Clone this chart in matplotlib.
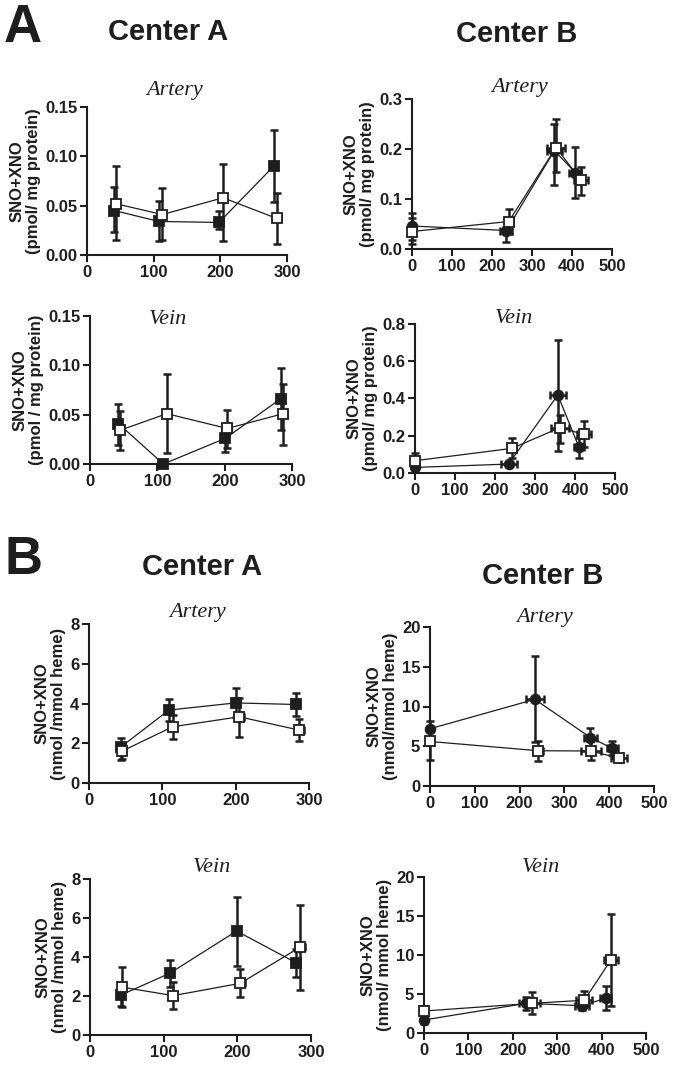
import matplotlib
matplotlib.use("Agg")
import matplotlib.pyplot as plt
import numpy as np

W, H = 674, 1065
INK = "#1e1e1e"

# rows: (x, y, y_low, y_high, xerr)
a_left_art_f = [(41, 0.045, 0.023, 0.069, 4), (108, 0.034, 0.014, 0.055, 4),
                (198, 0.033, 0.026, 0.045, 4), (280, 0.090, 0.054, 0.127, 5)]
a_left_art_o = [(43, 0.052, 0.015, 0.090, 4), (113, 0.041, 0.015, 0.068, 4),
                (204, 0.058, 0.014, 0.092, 5), (285, 0.037, 0.011, 0.063, 6)]

a_right_art_f = [(0, 0.046, 0.018, 0.072, 0), (236, 0.037, 0.015, 0.045, 15),
                 (356, 0.197, 0.128, 0.250, 18), (408, 0.153, 0.102, 0.205, 15)]
a_right_art_o = [(0, 0.035, 0.010, 0.062, 0), (242, 0.055, 0.030, 0.080, 10),
                 (360, 0.203, 0.155, 0.260, 22), (422, 0.138, 0.108, 0.165, 17)]

a_left_vein_f = [(42, 0.041, 0.019, 0.061, 4), (109, 0.000, 0.000, 0.000, 0),
                 (201, 0.026, 0.012, 0.035, 4), (283, 0.066, 0.034, 0.097, 5)]
a_left_vein_o = [(44, 0.034, 0.014, 0.054, 4), (114, 0.051, 0.011, 0.091, 4),
                 (204, 0.036, 0.016, 0.055, 6), (287, 0.051, 0.019, 0.081, 6)]

a_right_vein_f = [(0, 0.030, 0.015, 0.045, 0), (234, 0.048, 0.035, 0.060, 20),
                  (357, 0.419, 0.120, 0.715, 20), (410, 0.138, 0.080, 0.190, 12)]
a_right_vein_o = [(0, 0.066, 0.020, 0.110, 0), (242, 0.132, 0.080, 0.190, 10),
                  (362, 0.243, 0.160, 0.310, 22), (422, 0.208, 0.140, 0.280, 18)]

b_left_art_f = [(43, 1.80, 1.15, 2.25, 4), (109, 3.67, 3.10, 4.25, 4),
                (200, 4.03, 3.30, 4.80, 5), (282, 3.95, 3.35, 4.55, 5)]
b_left_art_o = [(45, 1.60, 1.20, 2.00, 4), (114, 2.83, 2.20, 3.40, 4),
                (205, 3.33, 2.30, 4.30, 6), (287, 2.66, 2.10, 3.20, 6)]

b_right_art_f = [(0, 7.2, 6.2, 8.2, 0), (234, 10.9, 5.5, 16.4, 20),
                 (358, 6.1, 4.9, 7.3, 15), (407, 4.74, 3.9, 5.6, 12)]
b_right_art_o = [(0, 5.6, 3.3, 7.0, 0), (241, 4.44, 3.2, 5.6, 12),
                 (360, 4.4, 3.3, 5.6, 22), (421, 3.5, 3.0, 4.0, 18)]

b_left_vein_f = [(42, 2.05, 1.50, 2.60, 4), (108, 3.16, 2.45, 3.85, 4),
                 (199, 5.33, 3.55, 7.10, 5), (280, 3.70, 3.00, 4.40, 5)]
b_left_vein_o = [(44, 2.45, 1.45, 3.50, 4), (113, 2.02, 1.35, 2.70, 4),
                 (204, 2.65, 1.95, 3.40, 6), (285, 4.50, 2.30, 6.65, 7)]

b_right_vein_f = [(0, 1.67, 1.2, 2.2, 0), (230, 3.8, 3.0, 4.6, 15),
                  (356, 3.5, 3.0, 4.0, 15), (409, 4.45, 3.0, 6.0, 12)]
b_right_vein_o = [(0, 2.82, 2.2, 3.4, 0), (243, 3.8, 2.5, 5.3, 18),
                  (361, 4.2, 3.3, 5.4, 18), (421, 9.36, 3.5, 15.3, 15)]

a_yticks = [0.0, 0.05, 0.10, 0.15]
a_yticklabels = ["0.00", "0.05", "0.10", "0.15"]

fig = plt.figure(figsize=(W / 100, H / 100), dpi=100)
SANS = "Liberation Sans"
SERIF = "Liberation Serif"


def box(x0, y0, x1, y1):
    # pixel box -> figure fraction
    return [x0 / W, 1 - y1 / H, (x1 - x0) / W, (y1 - y0) / H]


def series(ax, rows, filled, marker):
    d = np.array(rows, dtype=float)
    x, y = d[:, 0], d[:, 1]
    yerr = [y - d[:, 2], d[:, 3] - y]
    xerr = d[:, 4]
    ax.plot(x, y, color=INK, lw=0.9, zorder=2, clip_on=False)
    ax.errorbar(x, y, yerr=yerr, xerr=xerr, fmt="none", ecolor=INK,
                elinewidth=1.8, capsize=3, capthick=1.8, zorder=3, clip_on=False)
    ax.plot(x, y, ls="none", marker=marker, ms=7,
            mfc=INK if filled else "white", mec=INK, mew=1.3,
            zorder=4 if filled else 5, clip_on=False)


def panel(rect, rows_f, rows_o, xmax, ymax, yticks, yticklabels, ylabel, marker):
    ax = fig.add_axes(box(*rect))
    series(ax, rows_f, True, marker)
    series(ax, rows_o, False, "s")
    ax.set_xlim(0, xmax)
    ax.set_ylim(0, ymax)
    ax.set_xticks(np.arange(0, xmax + 1, 100))
    ax.set_yticks(yticks)
    ax.set_yticklabels(yticklabels)
    for s in ["top", "right"]:
        ax.spines[s].set_visible(False)
    for s in ["left", "bottom"]:
        ax.spines[s].set_linewidth(1.5)
        ax.spines[s].set_color(INK)
    ax.tick_params(direction="out", length=5, width=1.5, color=INK, pad=2,
                   labelsize=12, labelcolor=INK)
    for t in ax.get_xticklabels() + ax.get_yticklabels():
        t.set_fontfamily(SANS)
        t.set_fontweight("bold")
    ax.set_ylabel(ylabel, fontsize=12, fontweight="bold", family=SANS,
                  color=INK, labelpad=3, linespacing=1.1)
    return ax


panel((87, 107, 287, 255), a_left_art_f, a_left_art_o, 300, 0.15,
      a_yticks, a_yticklabels, "SNO+XNO\n(pmol/ mg protein)", "s")
panel((412, 99, 612, 249), a_right_art_f, a_right_art_o, 500, 0.3,
      [0, 0.1, 0.2, 0.3], ["0.0", "0.1", "0.2", "0.3"],
      "SNO+XNO\n(pmol/ mg protein)", "o")
panel((90, 316, 292, 464), a_left_vein_f, a_left_vein_o, 300, 0.15,
      a_yticks, a_yticklabels, "SNO+XNO\n(pmol / mg protein)", "s")
panel((415, 324, 615, 473), a_right_vein_f, a_right_vein_o, 500, 0.8,
      [0, 0.2, 0.4, 0.6, 0.8], ["0.0", "0.2", "0.4", "0.6", "0.8"],
      "SNO+XNO\n(pmol/ mg protein)", "o")
panel((89, 624, 309, 783), b_left_art_f, b_left_art_o, 300, 8,
      [0, 2, 4, 6, 8], ["0", "2", "4", "6", "8"],
      "SNO+XNO\n(nmol /mmol heme)", "s")
panel((430, 627, 654, 786), b_right_art_f, b_right_art_o, 500, 20,
      [0, 5, 10, 15, 20], ["0", "5", "10", "15", "20"],
      "SNO+XNO\n(nmol/mmol heme)", "o")
panel((90, 879, 311, 1035), b_left_vein_f, b_left_vein_o, 300, 8,
      [0, 2, 4, 6, 8], ["0", "2", "4", "6", "8"],
      "SNO+XNO\n(nmol /mmol heme)", "s")
panel((424, 877, 646, 1033), b_right_vein_f, b_right_vein_o, 500, 20,
      [0, 5, 10, 15, 20], ["0", "5", "10", "15", "20"],
      "SNO+XNO\n(nmol/ mmol heme)", "o")


def ftext(x, y, s, **kw):
    fig.text(x / W, 1 - y / H, s, color=INK, **kw)


# panel letters and centre headings (y = baseline in pixels)
ftext(4, 42, "A", fontsize=38, fontweight="bold", family=SANS, va="baseline")
ftext(4, 574, "B", fontsize=38, fontweight="bold", family=SANS, va="baseline")
ftext(168, 40, "Center A", fontsize=21, fontweight="bold", family=SANS, ha="center", va="baseline")
ftext(517, 42, "Center B", fontsize=21, fontweight="bold", family=SANS, ha="center", va="baseline")
ftext(202, 575, "Center A", fontsize=21, fontweight="bold", family=SANS, ha="center", va="baseline")
ftext(543, 584, "Center B", fontsize=21, fontweight="bold", family=SANS, ha="center", va="baseline")

# tissue titles
for x, y, s in [(175, 95, "Artery"), (520, 92, "Artery"), (168, 324, "Vein"),
                (514, 323, "Vein"), (198, 617, "Artery"), (545, 622, "Artery"),
                (212, 872, "Vein"), (541, 872, "Vein")]:
    ftext(x, y, s, fontsize=16, style="italic", family=SERIF, ha="center", va="baseline")

fig.savefig("out.png", dpi=100)
